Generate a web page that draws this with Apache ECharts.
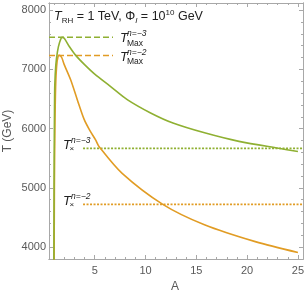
<!DOCTYPE html>
<html><head><meta charset="utf-8">
<script src="https://cdn.jsdelivr.net/npm/echarts@6/dist/echarts.min.js"></script>
<style>html,body{margin:0;padding:0;background:#fff}#c{width:308px;height:295px}</style>
</head><body><div id="c"></div>
<script>
// n = -3 curve (green)
const greenA = [0.975, 0.99, 1.01, 1.04, 1.07, 1.17, 1.33, 1.56, 1.79, 2.0, 2.5, 3.13, 4.0, 5.0, 6.57, 8.2, 10.5, 12.7, 15.9, 19.2, 23.1, 25.0];
const greenT = [3500, 4500, 5500, 6300, 6735, 7073, 7297, 7465, 7540, 7525, 7385, 7236, 7080, 6920, 6710, 6490, 6265, 6095, 5925, 5785, 5668, 5615];
// n = -2 curve (orange)
const orangeA = [1.0, 1.03, 1.08, 1.15, 1.25, 1.4, 1.55, 1.75, 2.0, 2.64, 3.3, 3.95, 4.5, 5.1, 5.42, 7.7, 11.7, 15.8, 20.8, 25.0];
const orangeT = [3500, 5000, 6000, 6700, 7050, 7225, 7236, 7200, 7080, 6820, 6480, 6160, 5975, 5806, 5700, 5246, 4723, 4378, 4093, 3910];
// reference levels [n=-3, n=-2]
const tMaxValues = [7540, 7236];
const tCrossValues = [5668, 4723];
const maxLineA = [0.5, 6.8];
const crossLineA = [3.85, 25.5];
// ticks
const xTicks = [5, 10, 15, 20, 25];
const xMinor = [1, 2, 3, 4, 6, 7, 8, 9, 11, 12, 13, 14, 16, 17, 18, 19, 21, 22, 23, 24];
const yTicks = [4000, 5000, 6000, 7000, 8000];
const yMinor = [3800, 4200, 4400, 4600, 4800, 5200, 5400, 5600, 5800, 6200, 6400, 6600, 6800, 7200, 7400, 7600, 7800];

const GREEN = '#8FB032', ORANGE = '#E19C24', FRAME = '#a8a8a8', LAB = '#595959';
const FONT = 'Liberation Sans, Arial, sans-serif';
const X0 = 0.5, X1 = 25.5, Y0 = 3800, Y1 = 8120;
const gridRect = {left: 49, right: 5, top: 3, bottom: 36};

function axis(kind, grid, pos, vals, len, labels) {
  return {
    type: 'value', gridIndex: grid, position: pos,
    min: kind === 'x' ? X0 : Y0, max: kind === 'x' ? X1 : Y1,
    axisLine: {show: true, onZero: false, lineStyle: {color: FRAME, width: 1}},
    axisTick: {show: true, inside: true, length: len, customValues: vals, lineStyle: {color: FRAME, width: 1}},
    axisLabel: {show: labels, customValues: vals, color: LAB, fontSize: 11, fontFamily: FONT,
      margin: kind === 'x' ? 6 : 3, formatter: v => String(v)},
    splitLine: {show: false}, minorTick: {show: false}
  };
}

function pairs(xs, ys) { return xs.map((x, i) => [x, ys[i]]); }
function hline(xs, y) { return xs.map(x => [x, y]); }

const chart = echarts.init(document.getElementById('c'), null, {renderer: 'canvas'});
function txt(x, y, s, size, italic) {
  return {type: 'text', x: x, y: y, style: {text: s, fontFamily: FONT, fontSize: size, fontStyle: italic ? 'italic' : 'normal', fill: '#222', verticalAlign: 'middle', align: 'left'}};
}
chart.setOption({
  animation: false,
  grid: [Object.assign({}, gridRect), Object.assign({}, gridRect)],
  xAxis: [
    axis('x', 0, 'bottom', xTicks, 4, true),
    axis('x', 0, 'top', xTicks, 4, false),
    axis('x', 1, 'bottom', xMinor, 2, false),
    axis('x', 1, 'top', xMinor, 2, false)
  ],
  yAxis: [
    axis('y', 0, 'left', yTicks, 4, true),
    axis('y', 0, 'right', yTicks, 4, false),
    axis('y', 1, 'left', yMinor, 2, false),
    axis('y', 1, 'right', yMinor, 2, false)
  ],
  series: [
    {type: 'line', data: hline(maxLineA, tMaxValues[0]), symbol: 'none', lineStyle: {color: GREEN, width: 1.5, type: [6, 3]}},
    {type: 'line', data: hline(maxLineA, tMaxValues[1]), symbol: 'none', lineStyle: {color: ORANGE, width: 1.5, type: [6, 3]}},
    {type: 'line', data: hline(crossLineA, tCrossValues[0]), symbol: 'none', lineStyle: {color: GREEN, width: 1.8, type: [2, 1.5]}},
    {type: 'line', data: hline(crossLineA, tCrossValues[1]), symbol: 'none', lineStyle: {color: ORANGE, width: 1.8, type: [2, 1.5]}},
    {type: 'line', data: pairs(orangeA, orangeT), symbol: 'none', smooth: 0.3, clip: true, lineStyle: {color: ORANGE, width: 1.6}},
    {type: 'line', data: pairs(greenA, greenT), symbol: 'none', smooth: 0.3, clip: true, lineStyle: {color: GREEN, width: 1.6}}
  ],
  graphic: [
    {type: 'text', x: 54, y: 17, style: {
      text: '{i|T}{s|RH}{n| = 1 TeV, Φ}{si|I}{n| = 10}{p|10}{n| GeV}',
      verticalAlign: 'middle', fontFamily: FONT,
      rich: {
        i: {fontSize: 12.5, fontStyle: 'italic', fill: '#222', fontFamily: FONT, lineHeight: 16},
        n: {fontSize: 12.5, fill: '#222', fontFamily: FONT, lineHeight: 16},
        s: {fontSize: 8, fill: '#222', fontFamily: FONT, lineHeight: 9, verticalAlign: 'bottom'},
        si: {fontSize: 8, fontStyle: 'italic', fill: '#222', fontFamily: FONT, lineHeight: 9, verticalAlign: 'bottom'},
        p: {fontSize: 8, fill: '#222', fontFamily: FONT, lineHeight: 9, verticalAlign: 'top'}
      }}},
    txt(120, 38.5, 'T', 13, true), txt(127, 34, 'n=−3', 8.5, true), txt(127, 43.5, 'Max', 8.5, false),
    txt(120, 57.5, 'T', 13, true), txt(127, 53, 'n=−2', 8.5, true), txt(127, 62, 'Max', 8.5, false),
    txt(63, 145, 'T', 13, true), txt(71, 140.5, 'n=−3', 8.5, true), txt(69.5, 148.5, '×', 8, false),
    txt(63, 201.5, 'T', 13, true), txt(71, 197, 'n=−2', 8.5, true), txt(69.5, 205, '×', 8, false),
    {type: 'text', x: 175, y: 287, style: {text: 'A', fontFamily: FONT, fontSize: 12, fill: LAB, align: 'center', verticalAlign: 'middle'}},
    {type: 'text', x: 8, y: 131, rotation: Math.PI / 2, style: {text: 'T (GeV)', fontFamily: FONT, fontSize: 12, fill: LAB, align: 'center', verticalAlign: 'middle'}}
  ]
});
</script></body></html>
